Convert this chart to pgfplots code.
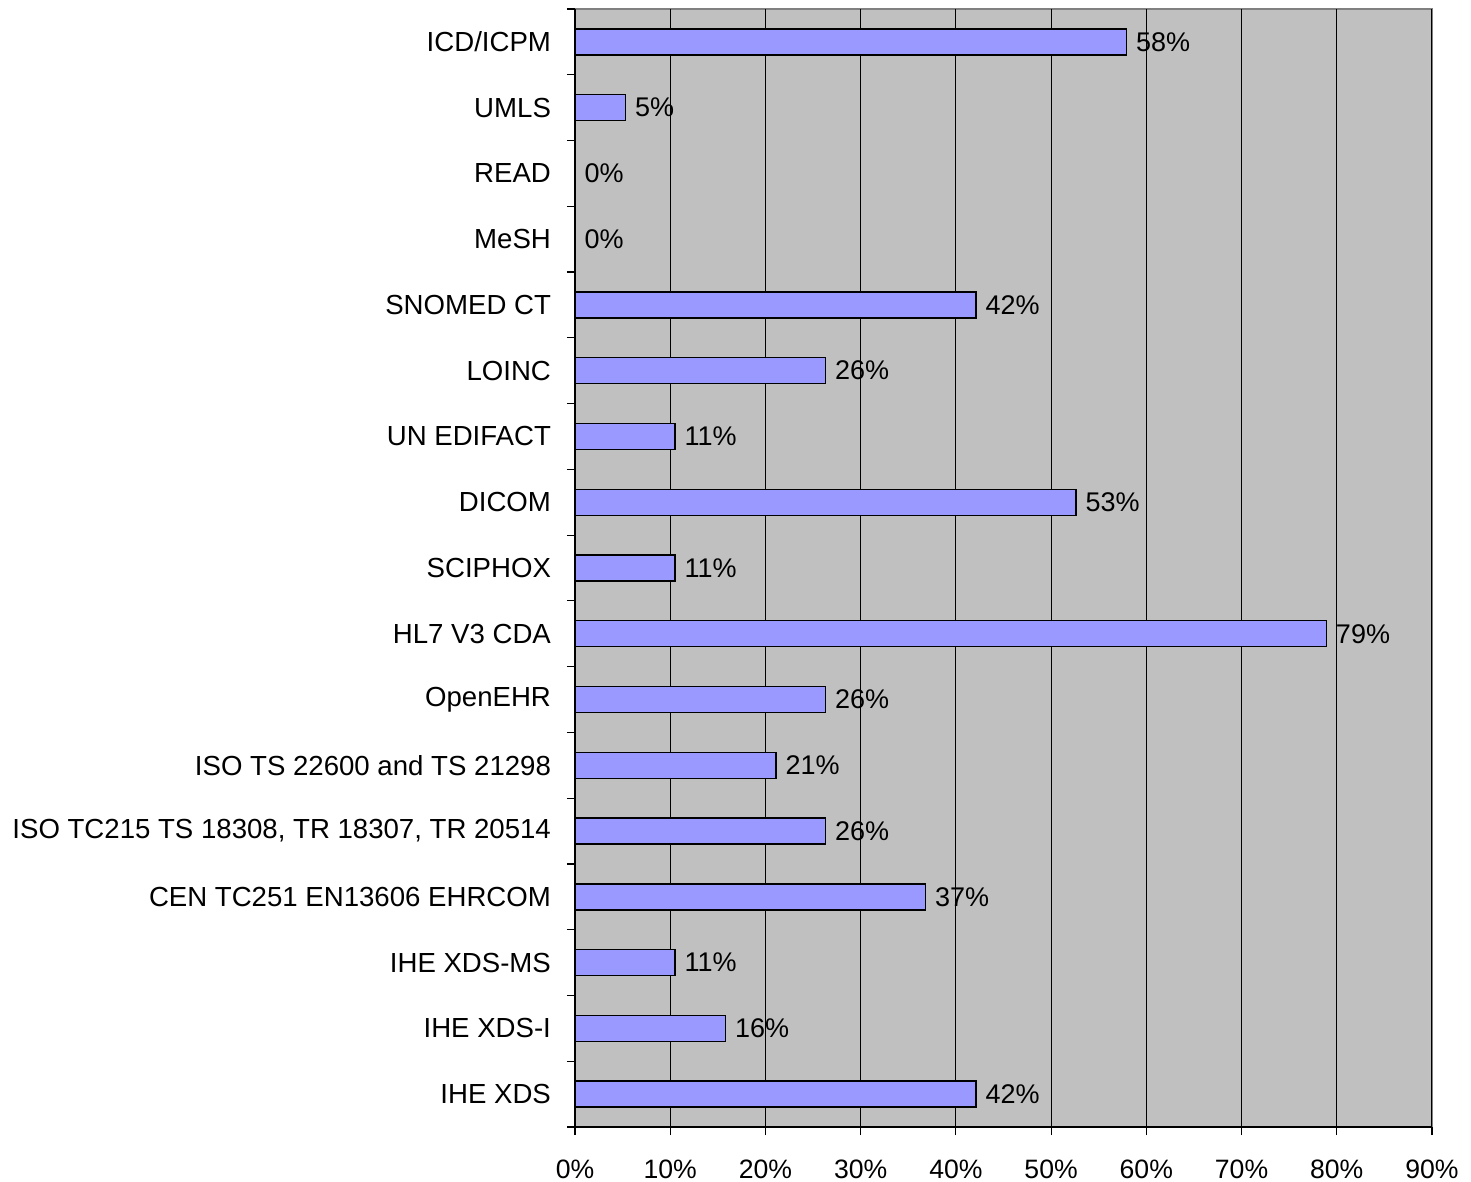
\documentclass[border=0pt]{standalone}
\usepackage{pgfplots}
\pgfplotsset{compat=1.18}
\usepackage{fontspec}
\setmainfont{Liberation Sans}
\definecolor{barcol}{HTML}{9999FF}
\definecolor{bgcol}{HTML}{C0C0C0}
\definecolor{framecol}{HTML}{808080}
\begin{document}
\begin{tikzpicture}
\begin{axis}[
  scale only axis,
  width=428.5pt, height=559pt,
  xbar, bar width=13pt, bar shift=0pt,
  xmin=0, xmax=90, ymin=-0.5, ymax=16.5,
  axis lines=left,
  axis line style={-, black, line width=0.6pt},
  axis background/.style={fill=bgcol, draw=framecol, line width=0.6pt},
  xtick={0,10,...,90},
  minor xtick={0,10,...,90},
  xticklabel={\pgfmathprintnumber{\tick}\%},
  xmajorgrids,
  major grid style={black, line width=0.5pt},
  ytick={0,...,16},
  minor ytick={-0.5,0.5,...,16.5},
  yticklabels={IHE XDS, IHE XDS-I, IHE XDS-MS, CEN TC251 EN13606 EHRCOM, {ISO TC215 TS 18308, TR 18307, TR 20514}, ISO TS 22600 and TS 21298, OpenEHR, HL7 V3 CDA, SCIPHOX, DICOM, UN EDIFACT, LOINC, SNOMED CT, MeSH, READ, UMLS, ICD/ICPM},
  major tick length=0pt,
  minor tick length=4pt,
  tick align=outside,
  tick style={black, line width=0.6pt},
  /pgf/number format/assume math mode=true,
  xticklabel style={font=\fontsize{13.3}{16}\selectfont, yshift=-13pt},
  yticklabel style={font=\fontsize{13.8}{16}\selectfont, xshift=-8.5pt},
  nodes near coords={\pgfmathprintnumber[fixed,precision=0]{\pgfplotspointmeta}\%},
  nodes near coords align={horizontal},
  every node near coord/.append style={font=\fontsize{13.5}{16}\selectfont, anchor=west, inner sep=0pt, xshift=4.5pt},
  clip=false,
]
\addplot[fill=barcol, draw=black, line width=0.7pt] coordinates {
  (42.1,0) (15.8,1) (10.5,2) (36.8,3) (26.3,4) (21.1,5) (26.3,6) (78.9,7)
  (10.5,8) (52.6,9) (10.5,10) (26.3,11) (42.1,12) (0,13) (0,14) (5.3,15) (57.9,16)
};
\end{axis}
\pgfresetboundingbox
\path ([shift={(-287.5pt,-27.5pt)}]current axis.south west) rectangle ([shift={(19.5pt,4.5pt)}]current axis.north east);
\end{tikzpicture}
\end{document}
